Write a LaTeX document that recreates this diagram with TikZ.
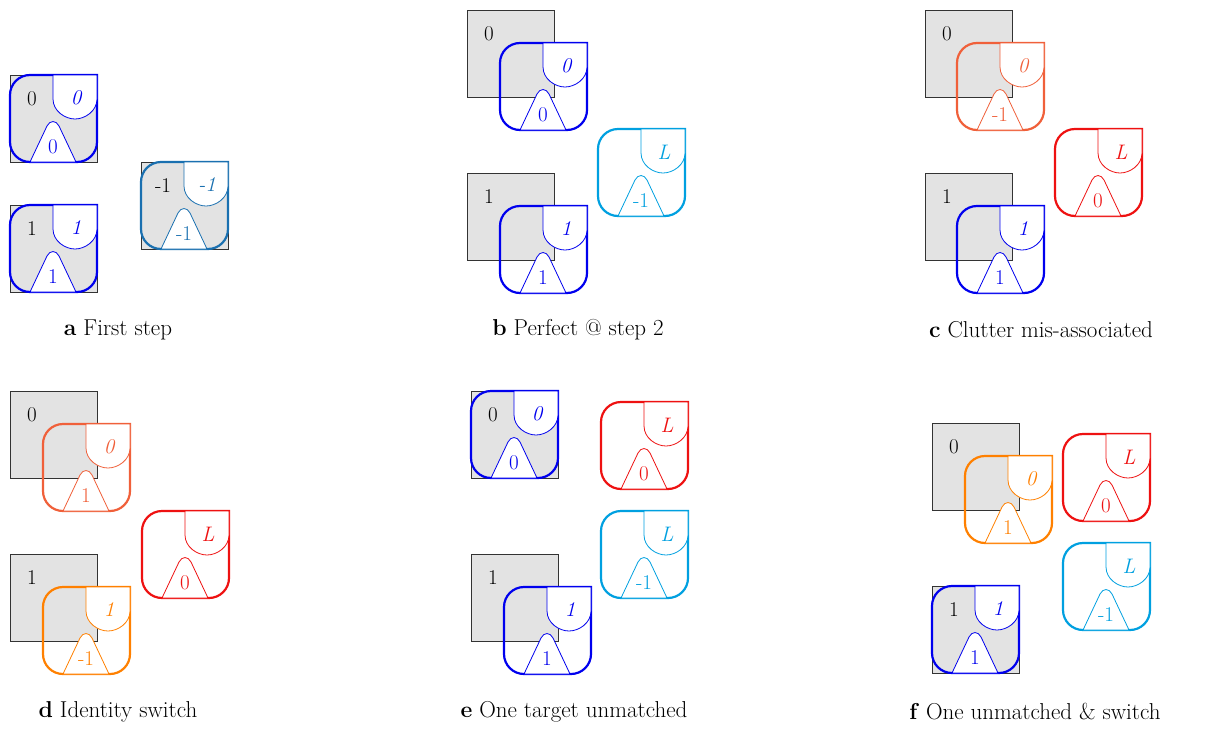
\documentclass[tikz,border=0pt]{standalone}
\usepackage{fontspec}
\begin{document}
\definecolor{cblue}{HTML}{0000EE}
\definecolor{ctom}{HTML}{F0603A}
\definecolor{cred}{HTML}{EE1111}
\definecolor{corg}{HTML}{FF8000}
\definecolor{ccyan}{HTML}{00A0E0}
\definecolor{csteel}{HTML}{1A70B0}
\begin{tikzpicture}[x=1pt,y=1pt,
  lab/.style={font=\fontsize{21}{24}\selectfont,inner sep=0},
  capt/.style={font=\fontsize{23}{26}\selectfont,inner sep=0},
  sq/.style={draw=black!80,fill=black!11,line width=0.8pt},
  pics/trk/.style n args={3}{code={
    \draw[#1,line width=2.2pt] (44,0) -- (87,0) -- (87,-67) arc[start angle=0,end angle=-90,radius=20] -- (20,-87) arc[start angle=-90,end angle=-180,radius=20] -- (0,-20) arc[start angle=180,end angle=90,radius=20] -- cycle;
    \draw[#1,fill=white,line width=0.8pt] (43,0) -- (43,-24) .. controls (43,-36) and (55,-44) .. (65,-44) .. controls (75,-44) and (87,-36) .. (87,-24) -- (87,0) -- cycle;
    \draw[#1,fill=white,line width=0.8pt] (20,-87) -- (37,-51) .. controls (40,-45) and (46,-45) .. (49,-51) -- (66,-87) -- cycle;
    \node[lab,text=#1] at (66,-23) {\itshape #2};
    \node[lab,text=#1] at (43,-72) {#3};
  }}]
\useasboundingbox (0,0) rectangle (1209,-736);
\newcommand\sqr[3]{\draw[sq] (#1,-#2) rectangle ++(87,-87); \node[lab] at (#1+22,-#2-24) {#3};}
% a
\sqr{10}{75}{0} \pic at (10,-75) {trk={cblue}{0}{0}};
\sqr{10}{205}{1} \pic at (10,-205) {trk={cblue}{1}{1}};
\sqr{141}{162}{-1} \pic at (141,-162) {trk={csteel}{-1}{-1}};
\node[capt] (ca) at (118,-330) {\textbf{a} First step};
% b
\sqr{467}{10}{0} \pic at (500,-43) {trk={cblue}{0}{0}};
\sqr{467}{173}{1} \pic at (500,-206) {trk={cblue}{1}{1}};
\pic at (598,-129) {trk={ccyan}{L}{-1}};
\node[capt] (cb) at (578,-330) {\textbf{b} Perfect @ step 2};
% c
\sqr{925}{10}{0} \pic at (957,-43) {trk={ctom}{0}{-1}};
\sqr{925}{173}{1} \pic at (957,-206) {trk={cblue}{1}{1}};
\pic at (1055,-129) {trk={cred}{L}{0}};
\node[capt] (cc) at (1041,-330) {\textbf{c} Clutter mis-associated};
% d
\sqr{10}{391}{0} \pic at (43,-424) {trk={ctom}{0}{1}};
\sqr{10}{554}{1} \pic at (43,-587) {trk={corg}{1}{-1}};
\pic at (142,-511) {trk={cred}{L}{0}};
\node[capt] (cd) at (118,-712) {\textbf{d} Identity switch};
% e
\sqr{471}{391}{0} \pic at (471,-391) {trk={cblue}{0}{0}};
\sqr{471}{554}{1} \pic at (504,-587) {trk={cblue}{1}{1}};
\pic at (601,-402) {trk={cred}{L}{0}};
\pic at (601,-511) {trk={ccyan}{L}{-1}};
\node[capt] (ce) at (574,-712) {\textbf{e} One target unmatched};
% f
\sqr{932}{423}{0} \pic at (965,-456) {trk={corg}{0}{1}};
\sqr{932}{586}{1} \pic at (932,-586) {trk={cblue}{1}{1}};
\pic at (1063,-434) {trk={cred}{L}{0}};
\pic at (1063,-543) {trk={ccyan}{L}{-1}};
\node[capt] (cf) at (1035,-712) {\textbf{f} One unmatched \& switch};
\end{tikzpicture}
\end{document}
